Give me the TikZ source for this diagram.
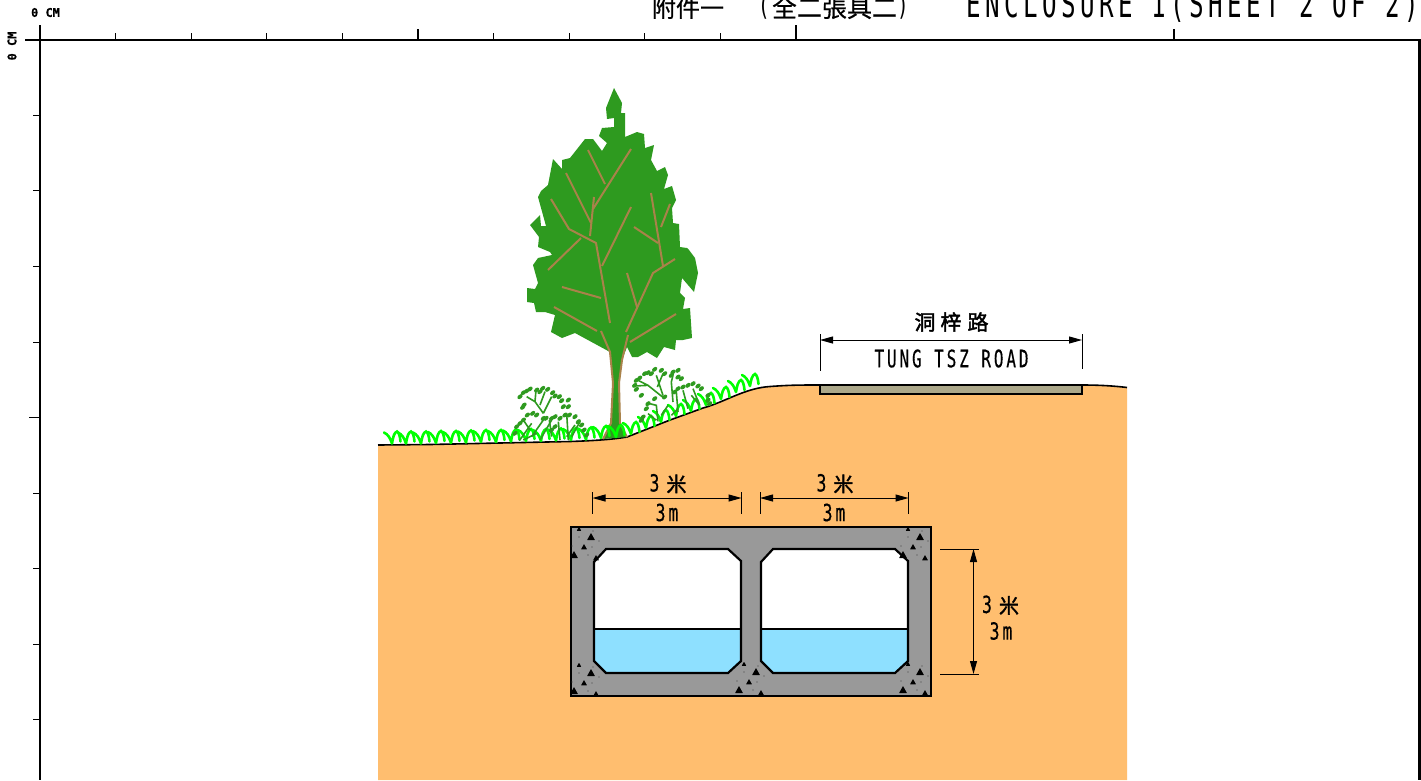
\documentclass[tikz,border=0pt]{standalone}
\usepackage{fontspec}
\usepackage{graphicx}
\usetikzlibrary{arrows.meta}
\setmainfont{Liberation Sans}
\newfontfamily\cadfont[LetterSpace=18,FakeBold=0.5]{DejaVu Sans Mono}
\newfontfamily\cadlight[LetterSpace=18.5]{DejaVu Sans Mono}
\newfontfamily\cadsmall[FakeBold=0.3]{DejaVu Sans Mono}
\newfontfamily\cjkfont[FakeBold=0.5]{Noto Sans CJK TC}
\newfontfamily\cjkbold[FakeBold=2]{Noto Sans CJK TC}
\definecolor{soil}{HTML}{FFBE6F}
\definecolor{leaf}{HTML}{2E9A1F}
\definecolor{bark}{HTML}{A9824A}
\definecolor{concrete}{HTML}{999999}
\definecolor{water}{HTML}{8EE0FF}
\definecolor{road}{HTML}{ACA88A}
\newcommand\cad[3]{{\cadfont\fontsize{#1}{#1}\selectfont\scalebox{0.8}[#2]{#3}}}
\newcommand\cadl[3]{{\cadlight\fontsize{#1}{#1}\selectfont\scalebox{0.8}[#2]{#3}}}
\newcommand\cads[1]{{\cadsmall\bfseries\fontsize{12}{12}\selectfont #1}}
\newcommand\han[2]{{\cjkfont\fontsize{#1}{#1}\selectfont #2}}
\newcommand\hanb[2]{{\cjkbold\fontsize{#1}{#1}\selectfont #2}}
\tikzset{
  axisline/.style={line width=2.8pt,black},
  tickline/.style={line width=0.9pt,black},
  bigtick/.style={line width=1.3pt,black},
  branchline/.style={bark,line width=2pt},
  grassline/.style={green,line width=2.6pt,line cap=round},
  shrubline/.style={leaf,line width=1.6pt},
  shrubdot/.style={leaf},
  dimline/.style={black,line width=1pt},
  dimarrow/.style={dimline,{Triangle[length=13pt,width=7pt]}-{Triangle[length=13pt,width=7pt]}},
  wallline/.style={black,line width=2.2pt,line join=miter},
  label/.style={inner sep=0pt,outer sep=0pt},
}
\newcommand\tuft[2]{\draw[grassline] (#1,#2) .. controls (#1-2,#2-6) and (#1-4,#2-9) .. (#1-8,#2-11)
   (#1,#2) .. controls (#1+1,#2-6) and (#1+2,#2-11) .. (#1+5,#2-12)
   .. controls (#1+7,#2-11) and (#1+8,#2-7) .. (#1+8.5,#2-2);}
\newcommand\specks[2]{\begin{scope}[shift={(#1,#2)}]
  \foreach \dx/\dy/\ds in {8/2/2.3,20/10/4,13/20/3,3/28/4,25/31/3}
    {\fill[black,rounded corners=0.4pt] (\dx-\ds,\dy+\ds*.8) -- (\dx,\dy-\ds) -- (\dx+\ds,\dy+\ds*.8) -- cycle;}
  \foreach \dx/\dy in {8/10,28/14,21/20,1/19,17/28,22/4}
    {\fill[black!75] (\dx,\dy) circle (0.6pt);}
\end{scope}}
\begin{document}
\begin{tikzpicture}[x=1pt,y=-1pt]
\useasboundingbox (0,0) rectangle (1421,780);
\clip (0,0) rectangle (1421,780);
\fill[white] (0,0) rectangle (1421,780);

% axes
\coordinate (ox) at (40,40);
\coordinate (axr) at (1421,40);
\coordinate (axl) at (25,40);
\coordinate (ayt) at (40,25);
\coordinate (ayb) at (40,780);
\draw[axisline] (axl) -- (axr);
\draw[axisline] (ayt) -- (ayb);
\draw[axisline] (1419.5,40) -- (1419.5,780);
\foreach \tx in {115.6,191.2,266.8,342.4,493.6,569.2,644.8,720.4}
  {\draw[tickline] (\tx,33) -- (\tx,40);}
\draw[bigtick] (418,29) -- (418,40);
\draw[bigtick] (796,25) -- (796,40);
\draw[bigtick] (1174,29) -- (1174,40);
\foreach \ty in {115,190.5,266,342,493,568.5,644,719.5}
  {\draw[tickline] (33,\ty) -- (40,\ty);}
\draw[bigtick] (29,417.5) -- (40,417.5);
\node[label] (zerox) at (45.5,12.5) {\cads{0 CM}};
\node[label,rotate=90] (zeroy) at (12,46) {\cads{0 CM}};

% header
\node[label,anchor=base west] (hdra) at (652,17) {\han{24}{附件一}};
\node[label,anchor=base west] (hdrb) at (758,15) {\cadl{24}{1.2}{(}};
\node[label,anchor=base west] (hdrc) at (772,17) {\han{25}{全二張具二}};
\node[label,anchor=base west] (hdrd) at (897,15) {\cadl{24}{1.2}{)}};
\node[label,anchor=base west] (hdre) at (966,17.5) {\cadl{30.2}{1.25}{ENCLOSURE 1(SHEET 2 OF 2)}};

% ground
\fill[soil] (378,445) -- (430,444.5) -- (570,441.5) .. controls (600,440.5) and (615,439) .. (627,437)
  -- (670,420) -- (703,408) .. controls (725,402) and (745,388) .. (770,386.5)
  .. controls (790,385) and (800,385) .. (820,385) -- (1082,385) .. controls (1100,385) and (1115,386) .. (1127,387.5)
  -- (1127,780) -- (378,780) -- cycle;
\draw[black,line width=1.6pt] (378,445) -- (430,444.5) -- (570,441.5) .. controls (600,440.5) and (615,439) .. (627,437)
  -- (670,420) -- (703,408) .. controls (725,402) and (745,388) .. (770,386.5)
  .. controls (790,385) and (800,385) .. (820,385) -- (1082,385) .. controls (1100,385) and (1115,386) .. (1127,387.5);

% tree
\fill[leaf] (614,88) -- (622,103) -- (621,113) -- (625,113) -- (625,137) -- (637,132) -- (644,134) -- (645,148) -- (654,145)
 -- (651,160) -- (657,171) -- (665,167) -- (668,175) -- (664,189) -- (672,186) -- (676,200) -- (672,208) -- (673,223)
 -- (679,224) -- (680,247) -- (687,248) -- (689,250) -- (695,258) -- (698,273) -- (694,292) -- (682,278) -- (680,293)
 -- (685,298) -- (683,309) -- (690,308) -- (692,338) -- (683,340) -- (676,340) -- (675,350) -- (664,347) -- (657,358)
 -- (647,352) -- (638,357) -- (632,357) -- (627,347) -- (622,360) -- (619,383) -- (620,423) -- (627,437) -- (603,439)
 -- (611,423) -- (613,383) -- (610,352) -- (575,333) -- (562,338) -- (551,332) -- (555,315) -- (545,312) -- (536,312)
 -- (534,303) -- (527,302) -- (527,288) -- (535,289) -- (538,283) -- (533,265) -- (538,258)
 -- (552,255) -- (550,252) -- (538,247) -- (539,237) -- (530,225) -- (540,215) -- (541,226) -- (546,226) -- (538,197)
 -- (541,191) -- (548,185) -- (553,159) -- (562,169) -- (562,160) -- (570,158) -- (585,139) -- (593,139) -- (602,151)
 -- (607,143) -- (599,136) -- (602,128) -- (614,127) -- (614,118) -- (607,119) -- (606,108) -- cycle;
\draw[branchline] (588,150) -- (605,184);
\draw[branchline] (631,149) -- (593,209);
\draw[branchline] (594,197) -- (590,236);
\draw[branchline] (566,173) -- (591,223);
\draw[branchline] (551,199) -- (569,229) -- (596,243) -- (610,323);
\draw[branchline] (581,238) -- (548,270);
\draw[branchline] (631,207) -- (602,266);
\draw[branchline] (651,193) -- (663,266);
\draw[branchline] (634,227) -- (658,243);
\draw[branchline] (670,204) -- (661,227);
\draw[branchline] (562,287) -- (601,298);
\draw[branchline] (554,307) -- (597,331);
\draw[branchline] (601,331) -- (610,352) -- (613,383) -- (611,423) -- (603,439);
\draw[branchline] (628,335) -- (622,360) -- (619,383) -- (620,423) -- (627,437);
\draw[branchline] (626,332) -- (653,273) -- (675,259);
\draw[branchline] (627,273) -- (637,307);
\draw[branchline] (630,342) -- (676,314);

% grass
\foreach \gx/\gy in {392/443.5,406/443.5,421/443.5,436/443,451/443,466/442.5,481/442,496/442,511/441.5,526/441,541/441,556/440.5,571/440,586/439.5,601/438,616/437,631/434,646/428,661/422,676/416,691/411,706/405,721/399,736/392,750/386}
  {\tuft{\gx}{\gy}}

% shrubs
\begin{scope}[shift={(510,380)},x=0.3333pt,y=-0.3333pt]
  \draw[shrubline] (100,100) -- (75,65) -- (50,50) (75,65) -- (78,30) (100,100) -- (125,50) (90,75) -- (105,35);
  \draw[shrubline] (28,182) -- (65,130) (60,150) -- (40,120) (65,170) -- (100,120) (40,180) -- (80,160) (90,180) -- (125,120);
  \draw[shrubline] (125,170) -- (118,120) (150,180) -- (145,125) (175,180) -- (170,100) (185,170) -- (210,125) (170,170) -- (195,135);
  \foreach \sx/\sy in {38/82,42/75,30/50,40/38,50/33,60/27,80/30,90/35,98/25,113/28,128/38,135/48,148/50,155/62,160/80,175/60,175/80,52/105,68/100,80/105,100/115,108/115,40/120,30/130,20/140,15/160,125/115,135/110,150/115,165/105,178/105,195/110,205/125,215/135,222/150,230/165,125/150,135/140}
    {\fill[shrubdot,rotate around={40:(\sx,\sy)}] (\sx,\sy) ellipse (3pt and 2pt);}
\end{scope}
\begin{scope}[shift={(628,362)},x=0.3333pt,y=-0.3333pt]
  \draw[shrubline] (110,110) -- (60,70) -- (20,72) (60,70) -- (30,55) (105,100) -- (85,40) (88,75) -- (105,35);
  \draw[shrubline] (135,120) -- (130,60) -- (135,40) (90,178) -- (85,130) -- (65,125) (100,160) -- (120,130) (85,175) -- (60,155);
  \draw[shrubline] (150,150) -- (145,90) (180,140) -- (165,85) (215,130) -- (190,100) (215,130) -- (195,80) (130,160) -- (150,140);
  \foreach \sx/\sy in {20/70,25/55,35/48,25/82,40/100,50/35,60/32,70/35,80/22,100/25,110/35,130/40,135/30,150/25,150/45,160/50,110/105,80/110,60/125,55/140,45/165,40/175,140/90,150/80,165/75,180/70,195/65,210/72,220/80,240/100,240/115,245/125}
    {\fill[shrubdot,rotate around={40:(\sx,\sy)}] (\sx,\sy) ellipse (3pt and 2pt);}
\end{scope}

% road
\node[fill=road,draw=black,line width=1.8pt,minimum width=262pt,minimum height=9pt,inner sep=0pt,outer sep=0pt,anchor=north west] (roadbed) at (820,385) {};
\coordinate (rl) at (820,340);
\coordinate (rr) at (1082,340);
\draw[dimline] (820,334) -- (820,371);
\draw[dimline] (1082,334) -- (1082,369);
\draw[dimarrow] (rl) -- (rr);
\node[label] (roadzh) at (951.5,322) {\hanb{21}{洞\hspace{5pt}梓\hspace{6pt}路}};
\node[label] (roaden) at (951.5,358.5) {\cad{20}{1.2}{TUNG TSZ ROAD}};

% culvert
\fill[concrete] (571,527) rectangle (931,696);
\path[fill=white] (606,549) -- (728,549) -- (741,561) -- (741,661) -- (728,673) -- (606,673) -- (594,661) -- (594,562) -- cycle;
\path[fill=white] (773,549) -- (895,549) -- (908,561) -- (908,661) -- (895,673) -- (773,673) -- (761,661) -- (761,562) -- cycle;
\fill[water] (594,629) -- (741,629) -- (741,661) -- (728,673) -- (606,673) -- (594,661) -- cycle;
\fill[water] (761,629) -- (908,629) -- (908,661) -- (895,673) -- (773,673) -- (761,661) -- cycle;
\draw[wallline] (571,527) rectangle (931,696);
\draw[wallline] (606,549) -- (728,549) -- (741,561) -- (741,661) -- (728,673) -- (606,673) -- (594,661) -- (594,562) -- cycle;
\draw[wallline] (773,549) -- (895,549) -- (908,561) -- (908,661) -- (895,673) -- (773,673) -- (761,661) -- (761,562) -- cycle;
\draw[black,line width=1.6pt] (594,629) -- (741,629);
\draw[black,line width=2.2pt] (761,629) -- (908,629);
\specks{571}{527}
\specks{571}{663}
\specks{736}{662}
\specks{900}{527}
\specks{900}{662}

% dimensions
\coordinate (da) at (592.5,498);
\coordinate (db) at (741.5,498);
\coordinate (dc) at (760,498);
\coordinate (dd) at (908.5,498);
\foreach \tx in {592.5,741.5,760,908.5} {\draw[dimline] (\tx,492) -- (\tx,514);}
\draw[dimarrow] (da) -- (db);
\draw[dimarrow] (dc) -- (dd);
\coordinate (dv1) at (973.5,549);
\coordinate (dv2) at (973.5,674);
\draw[dimline] (940,549) -- (979,549);
\draw[dimline] (940,674) -- (979,674);
\draw[dimarrow] (dv1) -- (dv2);
\node[label] (t1a) at (668,483.5) {\cad{20.5}{1.15}{3}\hspace{7pt}\hanb{20}{米}};
\node[label] (t1b) at (667,512.5) {\cad{20.5}{1.15}{3m}};
\node[label] (t2a) at (835,483.5) {\cad{20.5}{1.15}{3}\hspace{7pt}\hanb{20}{米}};
\node[label] (t2b) at (834,512.5) {\cad{20.5}{1.15}{3m}};
\node[label] (t3a) at (1000.5,605) {\cad{20.5}{1.15}{3}\hspace{7pt}\hanb{20}{米}};
\node[label] (t3b) at (1001,631) {\cad{20.5}{1.15}{3m}};
\end{tikzpicture}
\end{document}
